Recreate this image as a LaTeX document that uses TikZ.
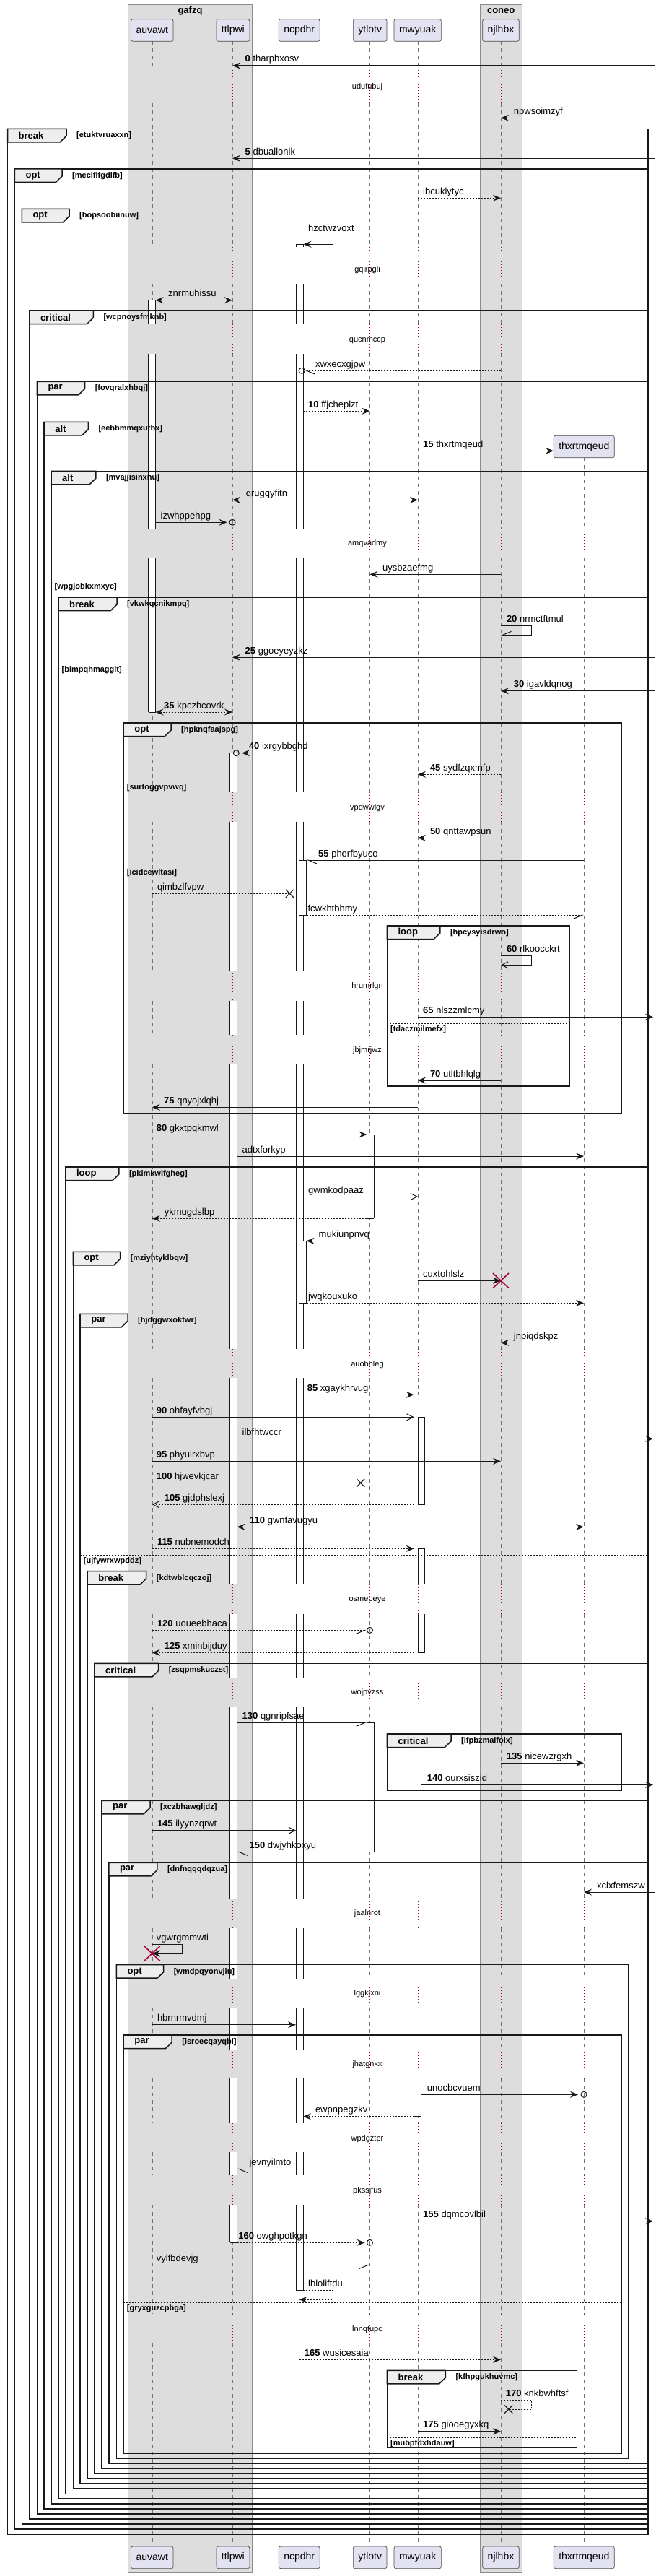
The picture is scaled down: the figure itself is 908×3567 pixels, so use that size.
\documentclass[tikz,border=0pt]{standalone}
\usepackage{fontspec}
\setmainfont{Liberation Sans}
\usetikzlibrary{arrows.meta}
\definecolor{partfill}{HTML}{E2E2F0}
\definecolor{boxgrey}{HTML}{DDDDDD}
\definecolor{tabfill}{HTML}{EEEEEE}
\definecolor{delayred}{HTML}{A80036}
\definecolor{ink}{HTML}{181818}
\newcounter{nid}
\tikzset{
 lifeline/.style={draw=black!55, line width=0.6pt, dash pattern=on 5pt off 5pt},
 delayline/.style={draw=delayred, line width=0.8pt, dash pattern=on 1pt off 3pt},
 actline/.style={draw=ink, line width=0.8pt},
 msgline/.style={draw=ink, line width=1pt},
 dashmsg/.style={draw=ink, line width=1pt, dash pattern=on 2pt off 2pt},
 fa/.style={-{Stealth[length=11pt,width=9pt,inset=4pt]}},
 fb/.style={{Stealth[length=11pt,width=9pt,inset=4pt]}-{Stealth[length=11pt,width=9pt,inset=4pt]}},
 oa/.style={-{Straight Barb[length=9pt,width=9pt]}},
 hR/.style={-{Straight Barb[harpoon,swap,length=12pt,width=10pt]}},
 hL/.style={-{Straight Barb[harpoon,length=12pt,width=10pt]}},
 hLs/.style={-{Straight Barb[harpoon,swap,length=12pt,width=10pt]}},
 part/.style={draw=black!70, line width=0.7pt, fill=partfill, rounded corners=2.5pt, inner xsep=7pt, inner ysep=0pt, minimum height=30.6pt, font={\fontsize{14}{16}\selectfont}},
 boxtitle/.style={font={\fontsize{13}{15}\selectfont\bfseries}, inner sep=0pt},
 lbl/.style={anchor=base west, inner sep=0pt, yshift=5pt, font={\fontsize{13}{15}\selectfont}},
 delaytxt/.style={inner sep=0pt, font={\fontsize{11}{13}\selectfont}},
 frameline/.style={draw=ink, line width=1.5pt},
 tabstyle/.style={draw=ink, line width=1.5pt, fill=tabfill},
 kindtxt/.style={inner sep=0pt, font={\fontsize{13}{15}\selectfont\bfseries}},
 guardtxt/.style={inner sep=0pt, font={\fontsize{11}{13}\selectfont\bfseries}},
 elseline/.style={draw=ink, line width=1pt, dash pattern=on 2pt off 2pt},
}
\newcommand\smsg[6]{%
  \stepcounter{nid}%
  \coordinate (m\arabic{nid}a) at (#2,#4);
  \coordinate (m\arabic{nid}b) at (#3,#4);
  \draw[#1] (m\arabic{nid}a) -- (m\arabic{nid}b);
  \node[lbl] (l\arabic{nid}) at (#5,#4) {#6};}
\newcommand\sself[8]{%
  \stepcounter{nid}%
  \coordinate (m\arabic{nid}a) at (#2,#4);
  \coordinate (m\arabic{nid}b) at (#6,#5);
  \draw[#1] (m\arabic{nid}a) -- (#3,#4) -- (#3,#5) -- (m\arabic{nid}b);
  \node[lbl] (l\arabic{nid}) at (#7,#4) {#8};}
\newcommand\sgrp[7]{%
  \stepcounter{nid}%
  \draw[frameline] (#1,#2) rectangle (#3,#4);
  \filldraw[tabstyle] (#1,#2) -- (#5,#2) -- (#5,{#2+10}) -- ({#5-8.7},{#2+18.5}) -- (#1,{#2+18.5}) -- cycle;
  \node[kindtxt, anchor=west] (k\arabic{nid}) at ({#1+15},{#2+9.5}) {#6};
  \node[guardtxt, anchor=west] (g\arabic{nid}) at ({#5+14},{#2+9.7}) {[#7]};}
\newcommand\selse[4]{%
  \stepcounter{nid}%
  \draw[elseline] (#1,#3) -- (#2,#3);
  \node[guardtxt, anchor=west] (e\arabic{nid}) at ({#1+4.5},{#3+8.5}) {[#4]};}
\newcommand\sact[5]{%
  \foreach \a/\b in {#3} {\fill[white] (#1,\a) rectangle (#2,\b); \draw[actline] (#1,\a) -- (#1,\b) (#2,\a) -- (#2,\b);}
  \draw[actline] (#1,#4) -- (#2,#4) (#1,#5) -- (#2,#5);}
\newcommand\circend[2]{\draw[ink,line width=1pt] (#1,#2) circle[radius=4pt];}
\newcommand\blackx[2]{\draw[ink,line width=1.2pt,shift={(#1,#2)}] (-5.5,-5.5) -- (5.5,5.5) (-5.5,5.5) -- (5.5,-5.5);}
\newcommand\redx[2]{\draw[delayred,line width=1.6pt,shift={(#1,#2)}] (-11,-10.3) -- (11,10.3) (-11,10.3) -- (11,-10.3);}
\def\dashsegs{57.3/97, 143/341.7, 393.3/449, 490/731.7, 772.3/1096.7, 1137.7/1344.3, 1385.7/1432.7, 1474/1868.3, 1908.3/2194.3, 2235/2322.7, 2363.3/2629, 2670/2740, 2780/2837.7, 2878.3/2940, 2980/3011.7, 3052.7/3204, 3245/3525.3}
\def\delaysegs{97/143, 341.7/393.3, 449/490, 731.7/772.3, 1096.7/1137.7, 1344.3/1385.7, 1432.7/1474, 1868.3/1908.3, 2194.3/2235, 2322.7/2363.3, 2629/2670, 2740/2780, 2837.7/2878.3, 2940/2980, 3011.7/3052.7, 3204/3245}
\def\thdash{634.3/731.7, 772.3/1096.7, 1137.7/1344.3, 1385.7/1432.7, 1474/1868.3, 1908.3/2194.3, 2235/2322.7, 2363.3/2629, 2670/2740, 2780/2837.7, 2878.3/2940, 2980/3011.7, 3052.7/3204, 3245/3525.3}
\def\thdelay{731.7/772.3, 1096.7/1137.7, 1344.3/1385.7, 1432.7/1474, 1868.3/1908.3, 2194.3/2235, 2322.7/2363.3, 2629/2670, 2740/2780, 2837.7/2878.3, 2940/2980, 3011.7/3052.7, 3204/3245}
\def\xau{210.8}\def\xtt{322}\def\xnc{414.7}\def\xyt{512.5}\def\xmw{579}\def\xnj{694}\def\xth{809}\def\xR{908}
\begin{document}
\begin{tikzpicture}[x=1pt,y=-1pt]
\useasboundingbox (0,0) rectangle (908,3567);
\fill[white] (0,0) rectangle (908,3567);
% boxes
\filldraw[fill=boxgrey, draw=black!45, line width=0.6pt] (177.6,6) rectangle (349.4,3562);
\filldraw[fill=boxgrey, draw=black!45, line width=0.6pt] (665,6) rectangle (723.4,3562);
\node[boxtitle] (bg) at (263.5,15) {gafzq};
\node[boxtitle] (bc) at (694.2,15) {coneo};
% lifelines
\foreach \X in {210.8,322,414.7,512.5,579,694}{
  \foreach \a/\b in \dashsegs {\draw[lifeline] (\X,\a) -- (\X,\b);}
  \foreach \a/\b in \delaysegs {\draw[delayline] (\X,\a) -- (\X,\b);}
}
\foreach \a/\b in \thdash {\draw[lifeline] (809,\a) -- (809,\b);}
\foreach \a/\b in \thdelay {\draw[delayline] (809,\a) -- (809,\b);}
% participants
\node[part] (au) at (210.8,42) {auvawt};
\node[part] (tt) at (322.9,42) {ttlpwi};
\node[part] (nc) at (414.7,42) {ncpdhr};
\node[part] (yt) at (512.7,42) {ytlotv};
\node[part] (mw) at (578.7,42) {mwyuak};
\node[part] (nj) at (694,42) {njlhbx};
\node[part] (th) at (809.3,618.5) {thxrtmqeud};
\node[part] (au2) at (210.8,3541.3) {auvawt};
\node[part] (tt2) at (322.9,3541.3) {ttlpwi};
\node[part] (nc2) at (414.7,3541.3) {ncpdhr};
\node[part] (yt2) at (512.7,3541.3) {ytlotv};
\node[part] (mw2) at (578.7,3541.3) {mwyuak};
\node[part] (nj2) at (694,3541.3) {njlhbx};
\node[part] (th2) at (809.3,3541.3) {thxrtmqeud};
% activations
\sact{410}{420}{338.3/341.7, 393.3/449, 490/731.7, 772.3/1096.7, 1137.7/1344.3, 1385.7/1432.7, 1474/1868.3, 1908.3/2194.3, 2235/2322.7, 2363.3/2629, 2670/2740, 2780/2837.7, 2878.3/2940, 2980/3011.7, 3052.7/3171.7}{338.3}{3171.7}
\sact{414}{424.6}{1191/1267.3}{1191}{1267.3}
\sact{414}{424.6}{1718.3/1804.3}{1718.3}{1804.3}
\sact{205.6}{215.5}{415.7/449, 490/731.7, 772.3/986}{415.7}{986}
\sact{318.6}{328}{1042.7/1096.7, 1137.7/1344.3, 1385.7/1432.7, 1474/1868.3, 1908.3/2194.3, 2235/2322.7, 2363.3/2629, 2670/2740, 2780/2837.7, 2878.3/2940, 2980/3011.7, 3052.7/3105.3}{1042.7}{3105.3}
\sact{508.4}{518.3}{1571/1687.3}{1571}{1687.3}
\sact{508.4}{518.3}{2385.3/2564.3}{2385.3}{2564.3}
\sact{573.7}{583.6}{1931.3/2194.3, 2235/2322.7, 2363.3/2629, 2670/2740, 2780/2837.7, 2878.3/2930.7}{1931.3}{2930.7}
\sact{579}{588.8}{1962.3/2083.3}{1962.3}{2083.3}
\sact{579}{588.8}{2144.3/2194.3, 2235/2288.3}{2144.3}{2288.3}
% delay texts
\foreach \y/\t in {121/udufubuj, 373.3/gqirpgli, 471.7/qucnmccp, 752.7/amqvadmy, 1118.3/vpdwwlgv, 1366/hrumrlgn, 1455/jbjmrjwz, 1889.3/auobhleg, 2215.3/osmeoeye, 2343.3/wojpvzss, 2650/jaalnrot, 2760.7/lggkjxni, 2858.3/jhatgnkx, 2961.7/wpdgztpr, 3033.3/pkssjfus, 3225.3/lnnqtupc}
  {\node[delaytxt] (d\t) at (509,\y) {\t};}
% frames
\sgrp{10.5}{178.3}{898}{3509.3}{92}{break}{etuktvruaxxn}
\sgrp{20.4}{234}{898}{3502}{86}{opt}{meclflfgdlfb}
\sgrp{30.3}{289.3}{898}{3495}{96}{opt}{bopsoobiinuw}
\sgrp{40.8}{430}{898}{3488}{129.3}{critical}{wcpnoysfmknb}
\sgrp{51.3}{528.3}{898}{3481}{117.6}{par}{fovqralxhbqj}
\sgrp{61.2}{584.3}{898}{3474}{122.3}{alt}{eebbmmqxutbx}
\sgrp{71}{652.3}{898}{3467}{132.8}{alt}{mvajjisinxnu}
\selse{71}{898}{804}{wpgjobkxmxyc}
\sgrp{81}{827}{898}{3460}{162}{break}{vkwkqcnikmpq}
\selse{81}{898}{919.3}{bimpqhmagglt}
\sgrp{171.2}{1001}{860.8}{1541.3}{237}{opt}{hpknqfaajspg}
\selse{171.2}{860.8}{1081.7}{surtoggvpvwq}
\selse{171.2}{860.8}{1200}{icidcewltasi}
\sgrp{536.4}{1282}{789.2}{1504}{609.8}{loop}{hpcysyisdrwo}
\selse{536.4}{789.2}{1417.3}{tdaczmilmefx}
\sgrp{90.9}{1616}{898}{3453.3}{164.8}{loop}{pkimkwlfgheg}
\sgrp{101.3}{1733.3}{898}{3446}{166.6}{opt}{mziyhtyklbqw}
\sgrp{111.2}{1819.3}{898}{3439}{177}{par}{hjdggwxoktwr}
\selse{111.2}{898}{2153.3}{ujfywrxwpddz}
\sgrp{121.1}{2175.7}{898}{3432}{202.7}{break}{kdtwblcqczoj}
\sgrp{131}{2303.3}{898}{3425}{219.6}{critical}{zsqpmskuczst}
\sgrp{536.4}{2401}{860.8}{2479}{625}{critical}{ifpbzmalfolx}
\sgrp{141}{2493.3}{898}{3418}{208}{par}{xczbhawgljdz}
\sgrp{150.8}{2579.3}{898}{3411.3}{217.8}{par}{dnfnqqqdqzua}
\sgrp{161.3}{2720.7}{870.7}{3404.3}{226.6}{opt}{wmdpqyonvjiu}
\sgrp{171.2}{2818}{860.8}{3397}{238.2}{par}{isroecqayqbl}
\selse{171.2}{860.8}{3188.3}{gryxguzcpbga}
\sgrp{536.4}{3282.3}{799.6}{3389.3}{617.3}{break}{kfhpgukhuvmc}
\selse{536.4}{799.6}{3375.3}{mubpfdxhdauw}
% messages
\smsg{msgline,fa}{\xR}{\xtt}{91}{339.5}{\textbf{0} tharpbxosv}
\smsg{msgline,fa}{\xR}{\xnj}{163.3}{711.7}{npwsoimzyf}
\smsg{msgline,fa}{\xR}{\xtt}{219.3}{339.5}{\textbf{5} dbuallonlk}
\smsg{dashmsg,fa}{\xmw}{\xnj}{274.3}{586}{ibcuklytyc}
\sself{msgline,fa}{\xnc}{461.8}{325.3}{338.3}{420.5}{427}{hzctwzvoxt}
\smsg{msgline,fb}{215.5}{\xtt}{415.7}{233}{znrmuhissu}
\smsg{dashmsg,hL}{\xnj}{422.5}{513.3}{436.8}{xwxecxgjpw}
\circend{418.2}{513.3}
\smsg{dashmsg,fa}{420}{\xyt}{569.3}{427}{\textbf{10} ffjcheplzt}
\smsg{msgline,fa}{\xmw}{767}{624.3}{586}{\textbf{15} thxrtmqeud}
\smsg{msgline,fb}{\xtt}{\xmw}{692.3}{340.7}{qrugqyfitn}
\smsg{msgline,fa}{215.5}{314.5}{723.3}{222.5}{izwhppehpg}
\circend{322}{723.3}
\smsg{msgline,fa}{\xnj}{\xyt}{795.3}{530}{uysbzaefmg}
\sself{msgline,hLs}{\xnj}{736.7}{866.7}{879.3}{\xnj}{701.8}{\textbf{20} nrmctftmul}
\smsg{msgline,fa}{\xR}{\xtt}{910.3}{339.5}{\textbf{25} ggoeyeyzkz}
\smsg{msgline,fa}{\xR}{\xnj}{956.7}{711.7}{\textbf{30} igavldqnog}
\smsg{dashmsg,fb}{215.5}{\xtt}{986}{227}{\textbf{35} kpczhcovrk}
\smsg{msgline,fa}{\xyt}{335}{1042.7}{344.8}{\textbf{40} ixrgybbghd}
\circend{327.3}{1042.7}
\smsg{dashmsg,fa}{\xnj}{\xmw}{1072.3}{595.8}{\textbf{45} sydfzqxmfp}
\smsg{msgline,fa}{\xth}{\xmw}{1160.3}{595.8}{\textbf{50} qnttawpsun}
\smsg{msgline,hL}{\xth}{424.6}{1191}{441}{\textbf{55} phorfbyuco}
\smsg{dashmsg}{\xau}{401.3}{1237.3}{217.8}{qimbzlfvpw}
\blackx{401.3}{1237.3}
\smsg{dashmsg,hR}{424.6}{\xth}{1267.3}{426.3}{fcwkhtbhmy}
\sself{msgline,oa}{\xnj}{736.7}{1323.7}{1336.3}{\xnj}{701.8}{\textbf{60} rlkoocckrt}
\smsg{msgline,fa}{\xmw}{905}{1408.3}{586}{\textbf{65} nlszzmlcmy}
\smsg{msgline,fa}{\xnj}{\xmw}{1496}{595.8}{\textbf{70} utltbhlqlg}
\smsg{msgline,fa}{\xmw}{\xau}{1533.3}{227}{\textbf{75} qnyojxlqhj}
\smsg{msgline,fa}{\xau}{508.4}{1571}{216.7}{\textbf{80} gkxtpqkmwl}
\smsg{msgline,fa}{328.5}{\xth}{1601}{335.5}{adtxforkyp}
\smsg{msgline,oa}{420}{\xmw}{1657}{427}{gwmkodpaaz}
\smsg{dashmsg,fa}{508.4}{\xau}{1687.3}{227.7}{ykmugdslbp}
\smsg{msgline,fa}{\xth}{424.6}{1718.3}{441.5}{mukiunpnvq}
\smsg{msgline,fa}{\xmw}{\xnj}{1773.3}{586}{cuxtohlslz}
\redx{694}{1773.3}
\smsg{dashmsg,fa}{424.6}{\xth}{1804.3}{427}{jwqkouxuko}
\smsg{msgline,fa}{\xR}{\xnj}{1859.3}{711.7}{jnpiqdskpz}
\smsg{msgline,fa}{420}{573.7}{1931.3}{425.7}{\textbf{85} xgaykhrvug}
\smsg{msgline,oa}{\xau}{573.7}{1962.3}{216.7}{\textbf{90} ohfayfvbgj}
\smsg{msgline,fa}{328.5}{905}{1992.3}{335.5}{ilbfhtwccr}
\smsg{msgline,fa}{\xau}{\xnj}{2023.3}{216.7}{\textbf{95} phyuirxbvp}
\smsg{msgline}{\xau}{499.7}{2053.3}{216.7}{\textbf{100} hjwevkjcar}
\blackx{499.7}{2053.3}
\smsg{dashmsg,oa}{573.7}{\xau}{2083.3}{227.7}{\textbf{105} gjdphslexj}
\smsg{msgline,fb}{328.5}{\xth}{2114.3}{346}{\textbf{110} gwnfavugyu}
\smsg{dashmsg,fa}{\xau}{573.7}{2144.3}{217.8}{\textbf{115} nubnemodch}
\smsg{dashmsg,hR}{\xau}{508}{2257.3}{217.8}{\textbf{120} uoueebhaca}
\circend{512.5}{2257.3}
\smsg{dashmsg,fa}{573.7}{\xau}{2288.3}{227.7}{\textbf{125} xminbijduy}
\smsg{msgline,hR}{328.5}{508.4}{2385.3}{335.5}{\textbf{130} qgnripfsae}
\smsg{msgline,fa}{\xnj}{\xth}{2441.3}{701.8}{\textbf{135} nicewzrgxh}
\smsg{msgline,fa}{583.6}{905}{2471.3}{591.7}{\textbf{140} ourxsiszid}
\smsg{msgline,oa}{\xau}{410}{2534.7}{217.8}{\textbf{145} ilyynzqrwt}
\smsg{dashmsg,hL}{508.4}{328.5}{2564.3}{345.4}{\textbf{150} dwjyhkoxyu}
\smsg{msgline,fa}{\xR}{\xth}{2620}{827}{xclxfemszw}
\sself{msgline,fa}{\xau}{252.2}{2692.3}{2705}{\xau}{216.7}{vgwrgmmwti}
\redx{210.8}{2705}
\smsg{msgline,fa}{\xau}{410}{2803.7}{217.8}{hbrnrmvdmj}
\smsg{msgline,fa}{583.6}{801}{2900.3}{591.7}{unocbcvuem}
\circend{809}{2900.3}
\smsg{dashmsg,fa}{573.7}{420}{2930.7}{436.8}{ewpnpegzkv}
\smsg{msgline,hL}{410}{328.5}{3003.3}{345.4}{jevnyilmto}
\smsg{msgline,fa}{\xmw}{905}{3075.7}{586}{\textbf{155} dqmcovlbil}
\smsg{dashmsg,fa}{328.5}{505.5}{3105.3}{330.2}{\textbf{160} owghpotkgn}
\circend{512.5}{3105.3}
\smsg{msgline,hR}{\xau}{\xyt}{3136.3}{216.7}{vylfbdevjg}
\sself{dashmsg,fa}{420}{461.8}{3171.7}{3184.3}{\xnc}{427}{lbloliftdu}
\smsg{dashmsg,fa}{\xnc}{\xnj}{3267.3}{421.7}{\textbf{165} wusicesaia}
\sself{dashmsg}{\xnj}{736.7}{3323.3}{3336}{704.7}{700.6}{\textbf{170} knkbwhftsf}
\blackx{704.7}{3336}
\smsg{msgline,fa}{\xmw}{\xnj}{3366.7}{586}{\textbf{175} gioqegyxkq}
\end{tikzpicture}
\end{document}
